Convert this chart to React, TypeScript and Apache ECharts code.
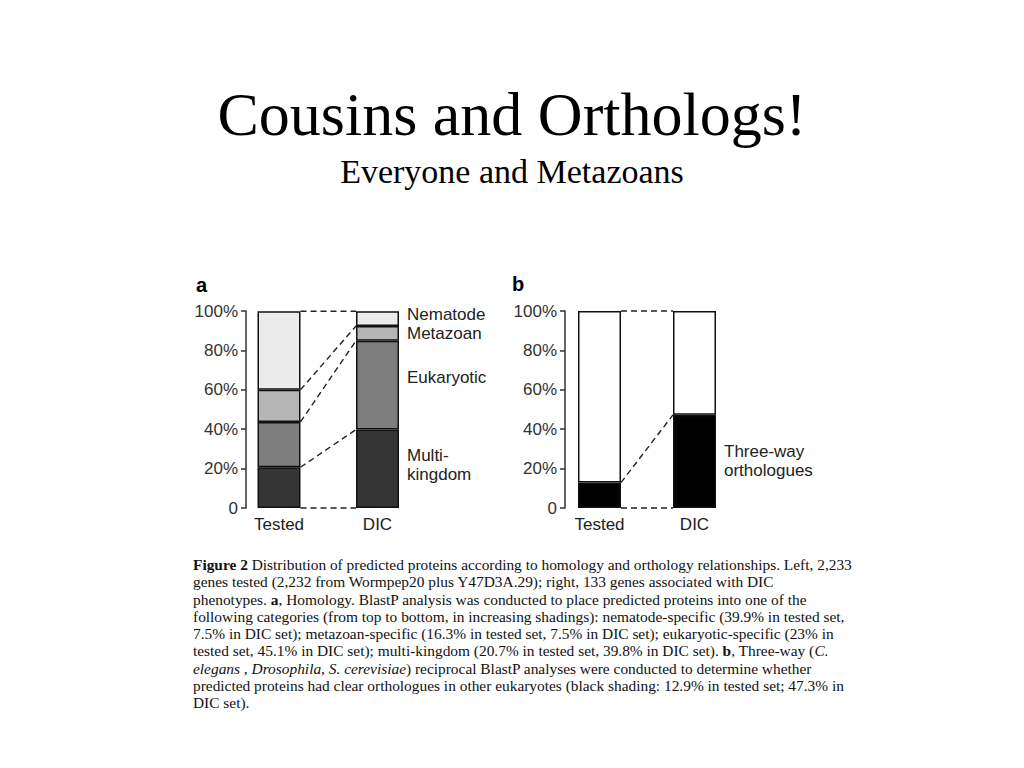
import React, { useEffect, useRef } from "react";
import * as echarts from "echarts";

const categories = ["Tested", "DIC"];
const multiKingdom = [20.7, 39.8];
const eukaryotic = [23, 45.1];
const metazoan = [16.3, 7.5];
const nematode = [39.9, 7.5];
const threeWay = [12.9, 47.3];
const notThreeWay = [87.1, 52.7];
const yTicks = [0, 20, 40, 60, 80, 100];

const captionLines = [
  "{b|Figure 2} Distribution of predicted proteins according to homology and orthology relationships. Left, 2,233",
  "genes tested (2,232 from Wormpep20 plus Y47D3A.29); right, 133 genes associated with DIC",
  "phenotypes. {b|a}, Homology. BlastP analysis was conducted to place predicted proteins into one of the",
  "following categories (from top to bottom, in increasing shadings): nematode-specific (39.9% in tested set,",
  "7.5% in DIC set); metazoan-specific (16.3% in tested set, 7.5% in DIC set); eukaryotic-specific (23% in",
  "tested set, 45.1% in DIC set); multi-kingdom (20.7% in tested set, 39.8% in DIC set). {b|b}, Three-way ({i|C.}",
  "{i|elegans} , {i|Drosophila}, {i|S. cerevisiae}) reciprocal BlastP analyses were conducted to determine whether",
  "predicted proteins had clear orthologues in other eukaryotes (black shading: 12.9% in tested set; 47.3% in",
  "DIC set).",
];

const SANS = "'Liberation Sans', Arial, Helvetica, sans-serif";
const SERIF = "'Liberation Serif', 'Times New Roman', serif";
const BAR_W = 43;
const CAP_SIZE = 15.4;
const CAP_LH = 17.25;

function cumulative(stacks: number[][], idx: number): number[] {
  const out: number[] = [0];
  let s = 0;
  for (const arr of stacks) {
    s += arr[idx];
    out.push(s);
  }
  return out;
}

export default function App() {
  const ref = useRef<HTMLDivElement>(null);
  useEffect(() => {
    if (!ref.current) return;
    const chart = echarts.init(ref.current, null, { renderer: "svg" });

    const stacksA = [multiKingdom, eukaryotic, metazoan, nematode];
    const cumT = cumulative(stacksA, 0);
    const cumD = cumulative(stacksA, 1);
    const connectorsA = cumT.map((v, i) => [0, v, cumD[i]]);
    const stacksB = [threeWay, notThreeWay];
    const cumTB = cumulative(stacksB, 0);
    const cumDB = cumulative(stacksB, 1);
    const connectorsB = cumTB.map((v, i) => [0, v, cumDB[i]]);

    const connectorRender = (params: any, api: any) => {
      const p0 = api.coord([0, api.value(1)]);
      const p1 = api.coord([1, api.value(2)]);
      return {
        type: "line",
        shape: { x1: p0[0] + BAR_W / 2, y1: p0[1], x2: p1[0] - BAR_W / 2, y2: p1[1] },
        style: { stroke: "#222", lineWidth: 1.4, lineDash: [6, 4] },
      };
    };

    const yAxisBase = (gridIndex: number, offset: number, margin: number) => ({
      type: "value",
      gridIndex,
      min: 0,
      max: 100,
      interval: 20,
      offset,
      axisLine: { show: true, lineStyle: { color: "#333", width: 1.5 } },
      axisTick: { show: true, length: 5, lineStyle: { color: "#333", width: 1.5 } },
      splitLine: { show: false },
      axisLabel: {
        margin,
        fontSize: 17,
        fontFamily: SANS,
        color: "#333",
        formatter: (v: number) => (yTicks.includes(v) ? (v === 0 ? "0" : v + "%") : ""),
      },
    });

    const xAxisBase = (gridIndex: number) => ({
      type: "category",
      gridIndex,
      data: categories,
      boundaryGap: false,
      axisLine: { show: false },
      axisTick: { show: false },
      axisLabel: { margin: 8, fontSize: 17, fontFamily: SANS, color: "#222" },
    });

    const labelStyle = {
      show: true,
      position: "right",
      distance: 8,
      fontSize: 17,
      lineHeight: 19,
      fontFamily: SANS,
      color: "#222",
      align: "left",
    };

    const barBase = (name: string, stack: string, color: string, data: any[], axisIndex: number) => ({
      type: "bar",
      name,
      stack,
      xAxisIndex: axisIndex,
      yAxisIndex: axisIndex,
      barWidth: BAR_W,
      clip: false,
      itemStyle: { color, borderColor: "#111", borderWidth: 1.5 },
      data,
      z: 3,
    });

    const withLabel = (arr: number[], text: string, dy: number, lh = 19) =>
      arr.map((v, i) =>
        i === 1
          ? { value: v, label: { ...labelStyle, lineHeight: lh, formatter: text, offset: [0, dy] } }
          : { value: v }
      );

    const option: any = {
      animation: false,
      backgroundColor: "#ffffff",
      grid: [
        { left: 279, top: 311, width: 98.5, height: 197 },
        { left: 599.5, top: 311, width: 95, height: 197 },
      ],
      xAxis: [xAxisBase(0), xAxisBase(1)],
      yAxis: [yAxisBase(0, 33, 8), yAxisBase(1, 34.5, 8)],
      series: [
        barBase("Multi-kingdom", "a", "#353535", withLabel(multiKingdom, "Multi-\nkingdom", -4), 0),
        barBase("Eukaryotic", "a", "#7e7e7e", withLabel(eukaryotic, "Eukaryotic", -8), 0),
        barBase("Metazoan", "a", "#b5b5b5", withLabel(metazoan, "Metazoan", 0, 17), 0),
        barBase("Nematode", "a", "#ebebeb", withLabel(nematode, "Nematode", -4, 17), 0),
        {
          type: "custom",
          xAxisIndex: 0,
          yAxisIndex: 0,
          renderItem: connectorRender,
          encode: { x: 0, y: 1 },
          data: connectorsA,
          z: 2,
          silent: true,
        },
        barBase("Three-way orthologues", "b", "#000000", withLabel(threeWay, "Three-way\northologues", 0), 1),
        barBase("Other", "b", "#ffffff", notThreeWay, 1),
        {
          type: "custom",
          xAxisIndex: 1,
          yAxisIndex: 1,
          renderItem: connectorRender,
          encode: { x: 0, y: 1 },
          data: connectorsB,
          z: 2,
          silent: true,
        },
      ],
      graphic: [
        {
          type: "text",
          left: "center",
          top: 83,
          style: { text: "Cousins and Orthologs!", font: `62px ${SERIF}`, fill: "#000" },
        },
        {
          type: "text",
          left: "center",
          top: 154,
          style: { text: "Everyone and Metazoans", font: `34px ${SERIF}`, fill: "#000" },
        },
        {
          type: "text",
          x: 196,
          y: 275,
          style: { text: "a", font: `bold 20px ${SANS}`, fill: "#000" },
        },
        {
          type: "text",
          x: 512,
          y: 274,
          style: { text: "b", font: `bold 20px ${SANS}`, fill: "#000" },
        },
        {
          type: "text",
          x: 193,
          y: 556,
          style: {
            text: captionLines.join("\n"),
            fontFamily: SERIF,
            fontSize: CAP_SIZE,
            lineHeight: CAP_LH,
            fill: "#111",
            rich: {
              b: { fontFamily: SERIF, fontSize: CAP_SIZE, fontWeight: "bold", lineHeight: CAP_LH, fill: "#111" },
              i: { fontFamily: SERIF, fontSize: CAP_SIZE, fontStyle: "italic", lineHeight: CAP_LH, fill: "#111" },
            },
          },
        },
      ],
    };
    chart.setOption(option);
    return () => chart.dispose();
  }, []);

  return (
    <div
      ref={ref}
      style={{ position: "fixed", left: 0, top: 0, width: 1024, height: 768, background: "#fff" }}
    />
  );
}
